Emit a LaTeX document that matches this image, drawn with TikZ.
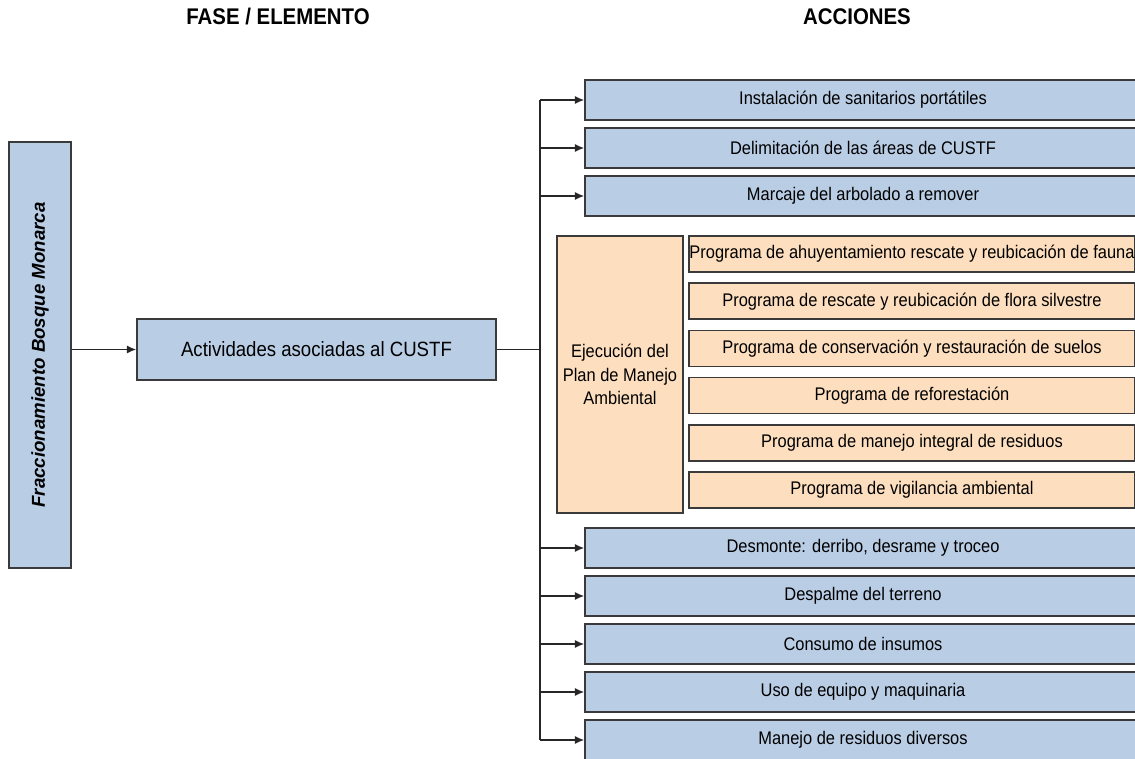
\documentclass[tikz,border=0pt]{standalone}
\usepackage{fontspec}
\setmainfont{Liberation Sans}[FakeStretch=0.9]
\newfontfamily\vertfont{Liberation Sans}
\usetikzlibrary{arrows.meta}
\definecolor{boxblue}{HTML}{B9CDE5}
\definecolor{boxpeach}{HTML}{FDDFC0}
\definecolor{edge}{HTML}{3A3A3A}
\tikzset{
  bluebox/.style={draw=edge, line width=1.1pt, fill=boxblue, rectangle, inner sep=0pt,
    minimum width=417pt, minimum height=30pt, font=\fontsize{13.7}{16}\selectfont},
  progbox/.style={draw=edge, line width=1.1pt, fill=boxpeach, rectangle, inner sep=0pt,
    minimum width=334.5pt, minimum height=27pt, font=\fontsize{13.7}{16}\selectfont},
  conn/.style={draw=black!85, line width=1.1pt},
  arr/.style={conn, -{Latex[length=7pt,width=6pt]}},
  header/.style={font=\fontsize{17}{20}\selectfont\bfseries}
}

\begin{document}
\begin{tikzpicture}[x=0.75pt, y=-0.75pt]
\useasboundingbox (0,0) rectangle (1135,759);
\clip (0,0) rectangle (1135,759);
% headers
\node[header] (hfase) at (278,17) {FASE / ELEMENTO};
\node[header] (hacc) at (857,17) {ACCIONES};
% phase and element
\node[draw=edge, line width=1.1pt, fill=boxblue, minimum width=46.5pt, minimum height=319.5pt, inner sep=0pt] (frac) at (40,355) {};
\node[rotate=90, font=\vertfont\fontsize{14}{16}\selectfont\bfseries\itshape] (fractxt) at (frac.center) {Fraccionamiento Bosque Monarca};
\node[draw=edge, line width=1.1pt, fill=boxblue, minimum width=269.25pt, minimum height=45.75pt, inner sep=0pt, font=\fontsize{15.5}{18}\selectfont] (act) at (316.5,349.5) {Actividades asociadas al CUSTF};
% actions
\node[bluebox] (b1) at (863,100) {Instalación de sanitarios portátiles};
\node[bluebox] (b2) at (863,148) {Delimitación de las áreas de CUSTF};
\node[bluebox] (b3) at (863,196) {Marcaje del arbolado a remover};
\node[draw=edge, line width=1.1pt, fill=boxpeach, minimum width=94.5pt, minimum height=207.75pt, inner sep=0pt, align=center, font=\fontsize{13.7}{17.5}\selectfont] (pma) at (620,374.5) {Ejecución del\\Plan de Manejo\\Ambiental};
\node[progbox] (p1) at (912,254) {Programa de ahuyentamiento rescate y reubicación de fauna};
\node[progbox] (p2) at (912,301.2) {Programa de rescate y reubicación de flora silvestre};
\node[progbox] (p3) at (912,348.4) {Programa de conservación y restauración de suelos};
\node[progbox] (p4) at (912,395.6) {Programa de reforestación};
\node[progbox] (p5) at (912,442.8) {Programa de manejo integral de residuos};
\node[progbox] (p6) at (912,490) {Programa de vigilancia ambiental};
\node[bluebox] (b4) at (863,548) {Desmonte: derribo, desrame y troceo};
\node[bluebox] (b5) at (863,596) {Despalme del terreno};
\node[bluebox] (b6) at (863,644) {Consumo de insumos};
\node[bluebox] (b7) at (863,692) {Uso de equipo y maquinaria};
\node[bluebox] (b8) at (863,740) {Manejo de residuos diversos};
% connectors
\coordinate (tr) at (540,349.5);
\draw[arr] (frac.east |- act.west) -- (act.west);
\draw[conn] (act.east) -- (tr);
\draw[conn] (tr |- b1.west) -- (tr |- b8.west);
\foreach \b in {b1,b2,b3,b4,b5,b6,b7,b8}
  \draw[arr] (tr |- \b.west) -- (\b.west);
\end{tikzpicture}
\end{document}
